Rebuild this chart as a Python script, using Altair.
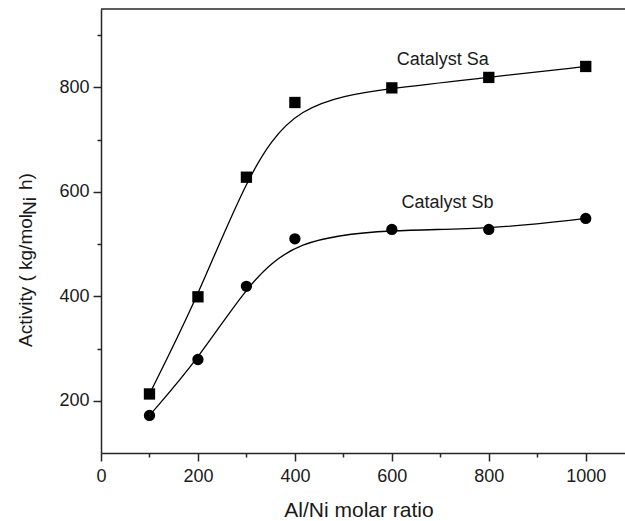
import altair as alt
import pandas as pd

# ---- data ----
ratio = [100, 200, 300, 400, 600, 800, 1000]
activity_sa = [213, 399, 628, 771, 799, 819, 840]
activity_sb = [172, 279, 419, 510, 528, 528, 549]
series_names = ["Catalyst Sa", "Catalyst Sb"]
x_ticks = [0, 100, 200, 300, 400, 500, 600, 700, 800, 900, 1000]
y_ticks = [200, 300, 400, 500, 600, 700, 800, 900]

df = pd.DataFrame({
    "ratio": ratio + ratio,
    "activity": activity_sa + activity_sb,
    "series": [series_names[0]] * len(ratio) + [series_names[1]] * len(ratio),
})

# annotation anchors (data coordinates)
ann = pd.DataFrame({
    "label": series_names,
    "ratio": [705, 715],
    "activity": [843, 569],
})

W, H = 524, 444
FONT = "Liberation Sans"
INK = "#1a1a1a"
AX = "#262626"

xs = alt.Scale(domain=[0, 1081], nice=False, zero=False)
ys = alt.Scale(domain=[100, 950], nice=False, zero=False)

major_x = "datum.value % 200 == 0"
major_y = "datum.value % 200 == 0"

x_axis = alt.Axis(
    values=x_ticks, format="d", title=None, grid=False,
    labelExpr=f"{major_x} ? datum.label : ''",
    tickSize={"condition": {"test": major_x, "value": 8}, "value": 4},
    tickColor=AX, tickWidth=1.5, domainColor=AX, domainWidth=1.5,
    labelFont=FONT, labelFontSize=18, labelColor=INK, labelPadding=6,
    labelFlush=False, labelOverlap=False,
)
y_axis = alt.Axis(
    values=y_ticks, format="d", title=None, grid=False,
    labelExpr=f"{major_y} ? datum.label : ''",
    tickSize={"condition": {"test": major_y, "value": 8}, "value": 4},
    tickColor=AX, tickWidth=1.5, domainColor=AX, domainWidth=1.5,
    labelFont=FONT, labelFontSize=18, labelColor=INK, labelPadding=4,
    labelFlush=False, labelOverlap=False,
)

base = alt.Chart(df)

lines = base.mark_line(interpolate="basis", color="black", strokeWidth=1.3).encode(
    x=alt.X("ratio:Q", scale=xs, axis=x_axis),
    y=alt.Y("activity:Q", scale=ys, axis=y_axis),
    detail="series:N",
)

points = base.mark_point(filled=True, size=128, opacity=1, color="black").encode(
    x=alt.X("ratio:Q", scale=xs),
    y=alt.Y("activity:Q", scale=ys),
    shape=alt.Shape("series:N", scale=alt.Scale(domain=series_names, range=["square", "circle"]), legend=None),
)

labels = alt.Chart(ann).mark_text(
    font=FONT, fontSize=18, color=INK, align="center", baseline="alphabetic"
).encode(
    x=alt.X("ratio:Q", scale=xs),
    y=alt.Y("activity:Q", scale=ys),
    text="label:N",
)

top_border = alt.Chart(pd.DataFrame({"a": [0]})).mark_rule(color=AX, strokeWidth=1.5).encode(
    x=alt.value(0), x2=alt.value(W), y=alt.value(0)
)

def txt(s, x, y, size, angle=0, align="left", dx_baseline="alphabetic"):
    kw = dict(font=FONT, fontSize=size, color=INK, align=align, baseline=dx_baseline)
    if angle:
        kw["angle"] = angle
    return alt.Chart(pd.DataFrame({"t": [s]})).mark_text(**kw).encode(
        x=alt.value(x), y=alt.value(y), text="t:N"
    )

ytitle1 = txt("Activity ( kg/mol", -69, 338, 19, angle=270)
ytitle2 = txt("Ni", -65, 206, 19, angle=270)
ytitle3 = txt("h)", -69, 181, 19, angle=270)
xtitle = txt("Al/Ni molar ratio", 258, 508, 21, align="center")

chart = alt.layer(
    lines, points, labels, top_border, ytitle1, ytitle2, ytitle3, xtitle
).properties(
    width=W, height=H,
    padding={"left": 101, "top": 9, "right": 0, "bottom": 68},
    autosize=alt.AutoSizeParams(type="none"),
).configure_view(stroke=None)

chart.save("out.html", embed_options={"renderer": "svg", "actions": False})
